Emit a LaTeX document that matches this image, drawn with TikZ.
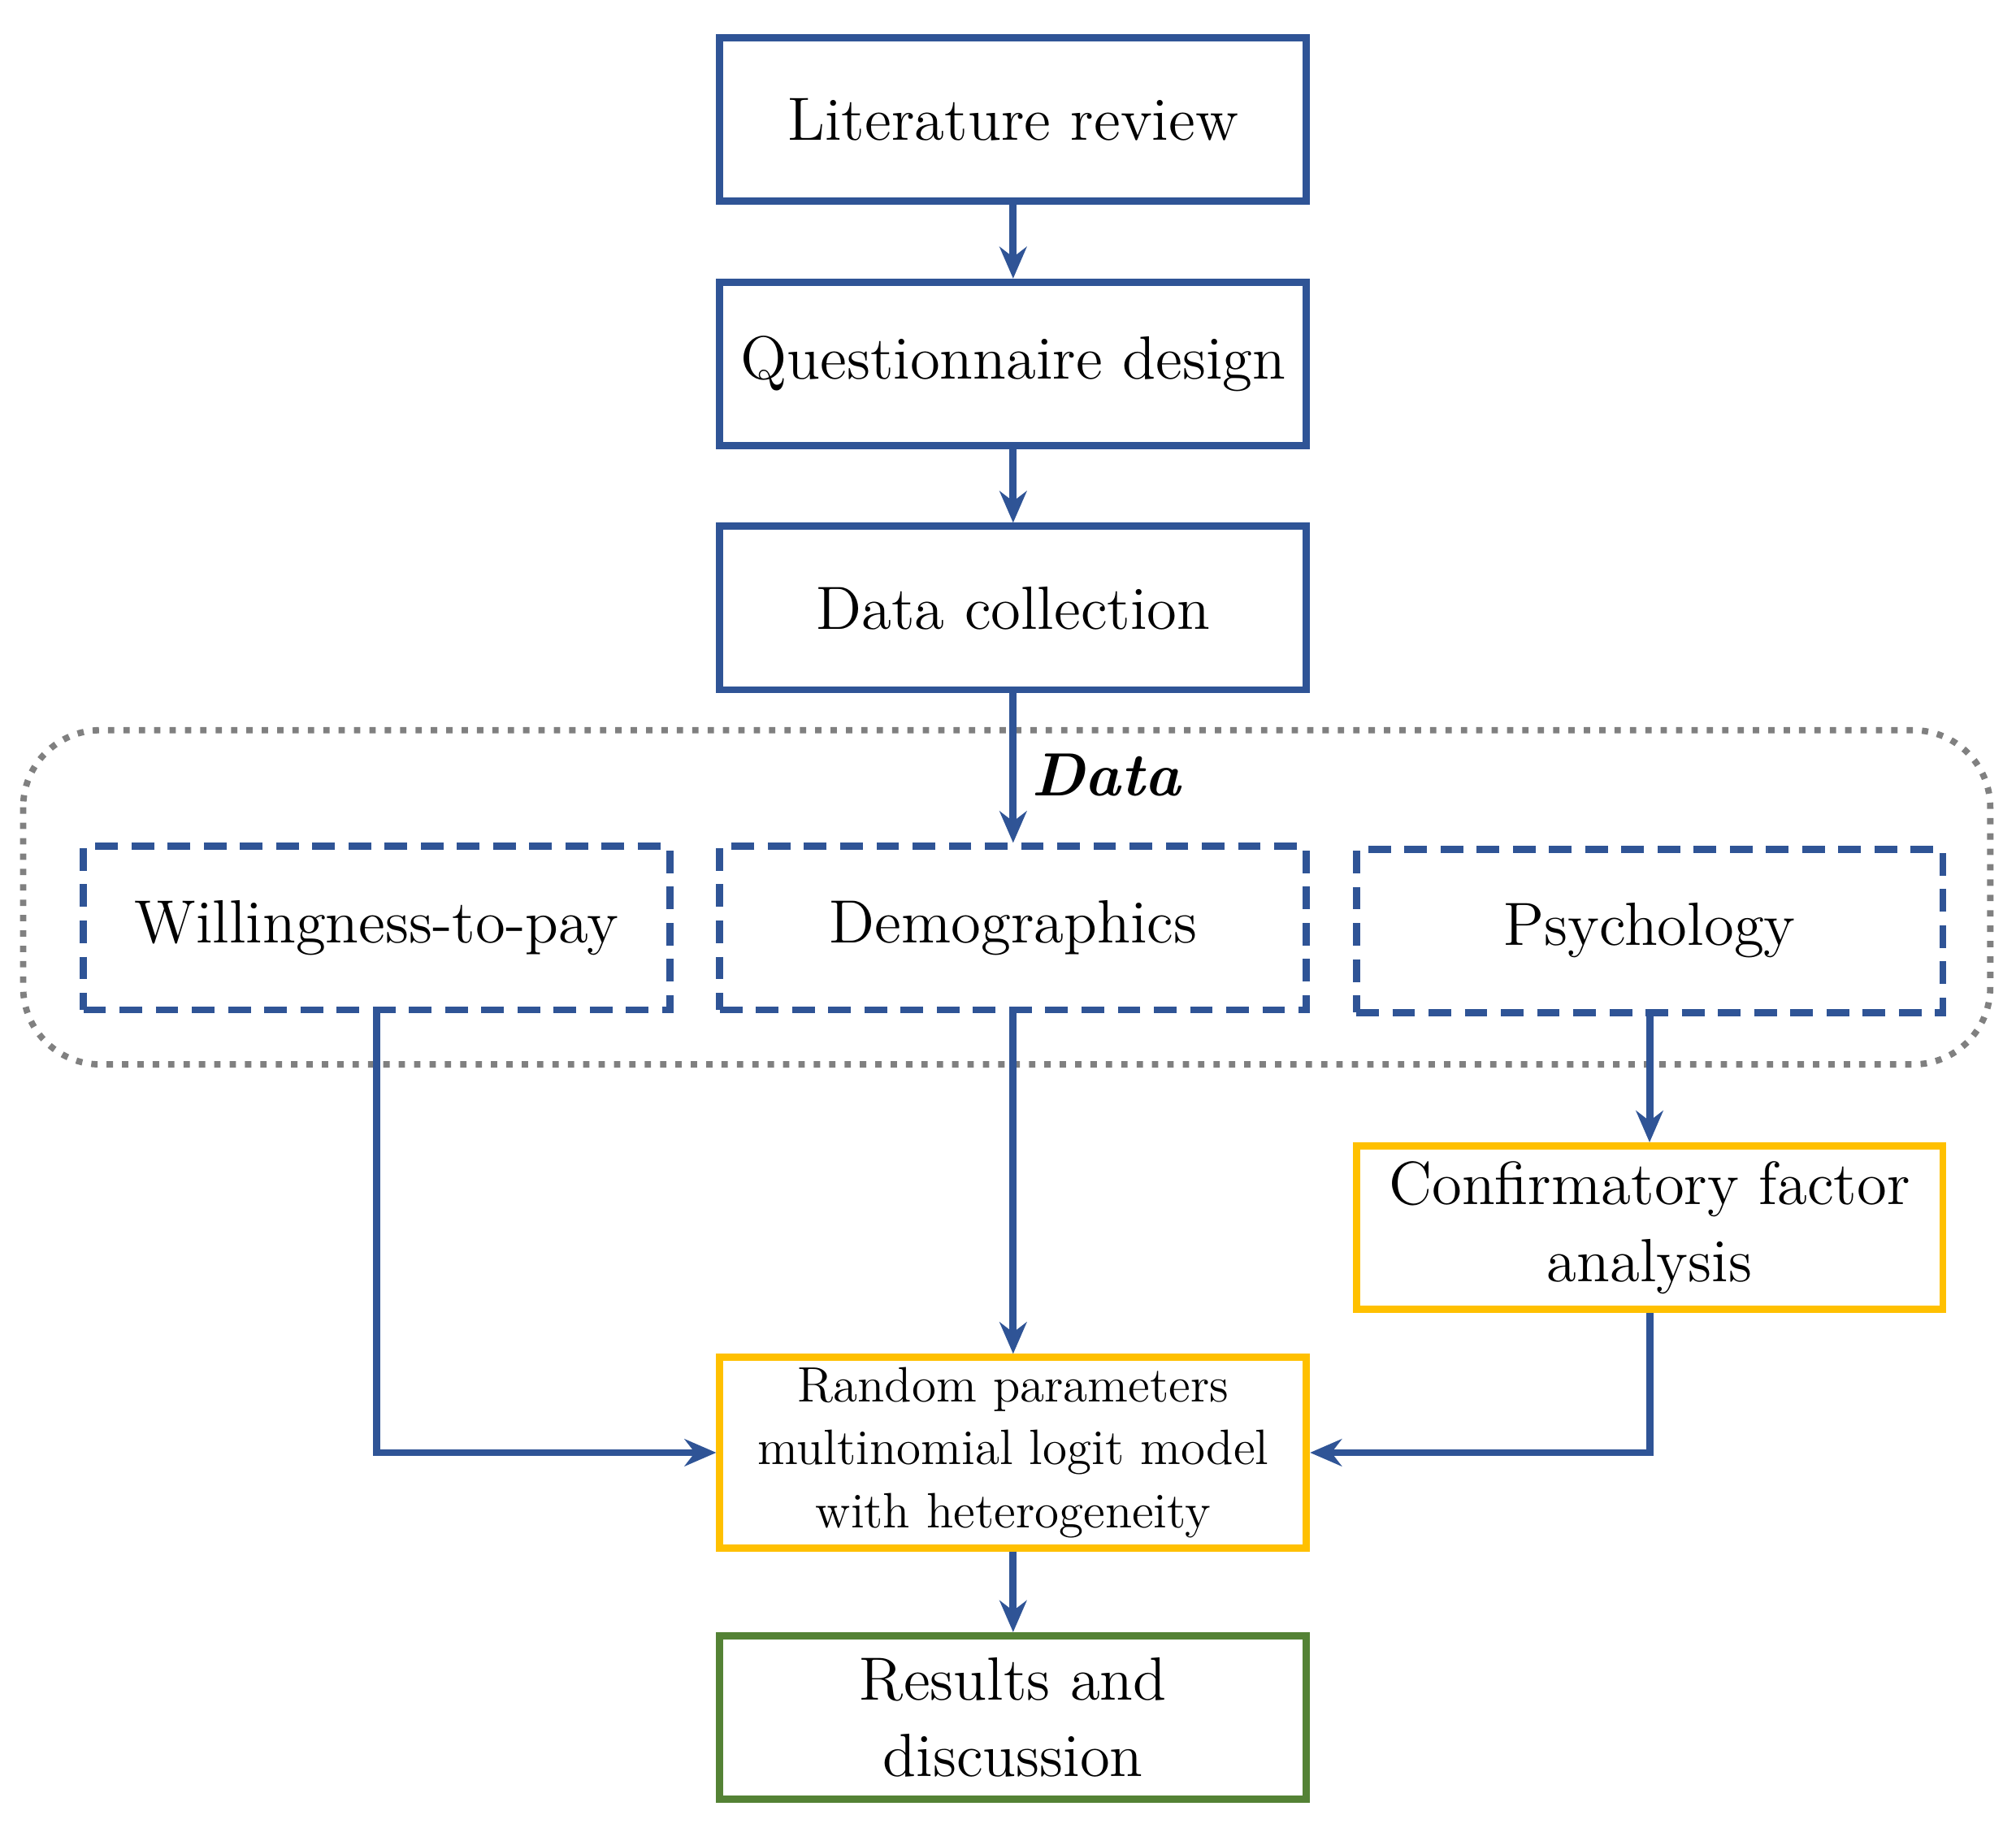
\documentclass[tikz,border=0pt]{standalone}
\usetikzlibrary{arrows.meta}
\definecolor{bl}{RGB}{47,84,150}
\definecolor{yl}{RGB}{255,192,0}
\definecolor{gr}{RGB}{84,130,53}
\begin{document}
\begin{tikzpicture}[x=0.01cm,y=-0.01cm,
 box/.style={draw=bl,line width=1.6pt,minimum width=4.56cm,minimum height=1.27cm,align=center,font=\fontsize{13.5}{17}\selectfont,inner sep=0pt},
 dbox/.style={box,dashed,dash pattern=on 5pt off 3pt},
 ybox/.style={box,draw=yl},
 arr/.style={draw=bl,line width=1.6pt,-{Stealth[length=7pt,width=6pt]}}]
\useasboundingbox (0,0) rectangle (1568,1432);
\draw[gray,dotted,line width=1.4pt,rounded corners=0.6cm] (18,568) rectangle (1548,828);
\node[box] (lit) at (788,93) {Literature review};
\node[box] (q) at (788,283) {Questionnaire design};
\node[box] (dc) at (788,473) {Data collection};
\node[font=\fontsize{13.5}{17}\selectfont\bfseries\itshape] (dl) at (860,603) {Data};
\node[dbox] (w) at (293,722) {Willingness-to-pay};
\node[dbox] (d) at (788,722) {Demographics};
\node[dbox] (p) at (1283,724) {Psychology};
\node[ybox] (c) at (1283,955) {Confirmatory factor\\analysis};
\node[ybox,minimum height=1.48cm,font=\fontsize{11}{14}\selectfont] (r) at (788,1130) {Random parameters\\multinomial logit model\\with heterogeneity};
\node[box,draw=gr] (res) at (788,1336) {Results and\\discussion};
\draw[arr] (lit) -- (q);
\draw[arr] (q) -- (dc);
\draw[arr] (dc) -- (d);
\draw[arr] (d) -- (r);
\draw[arr] (p) -- (c);
\draw[arr] (w.south) |- (r.west);
\draw[arr] (c.south) |- (r.east);
\draw[arr] (r) -- (res);
\end{tikzpicture}
\end{document}
